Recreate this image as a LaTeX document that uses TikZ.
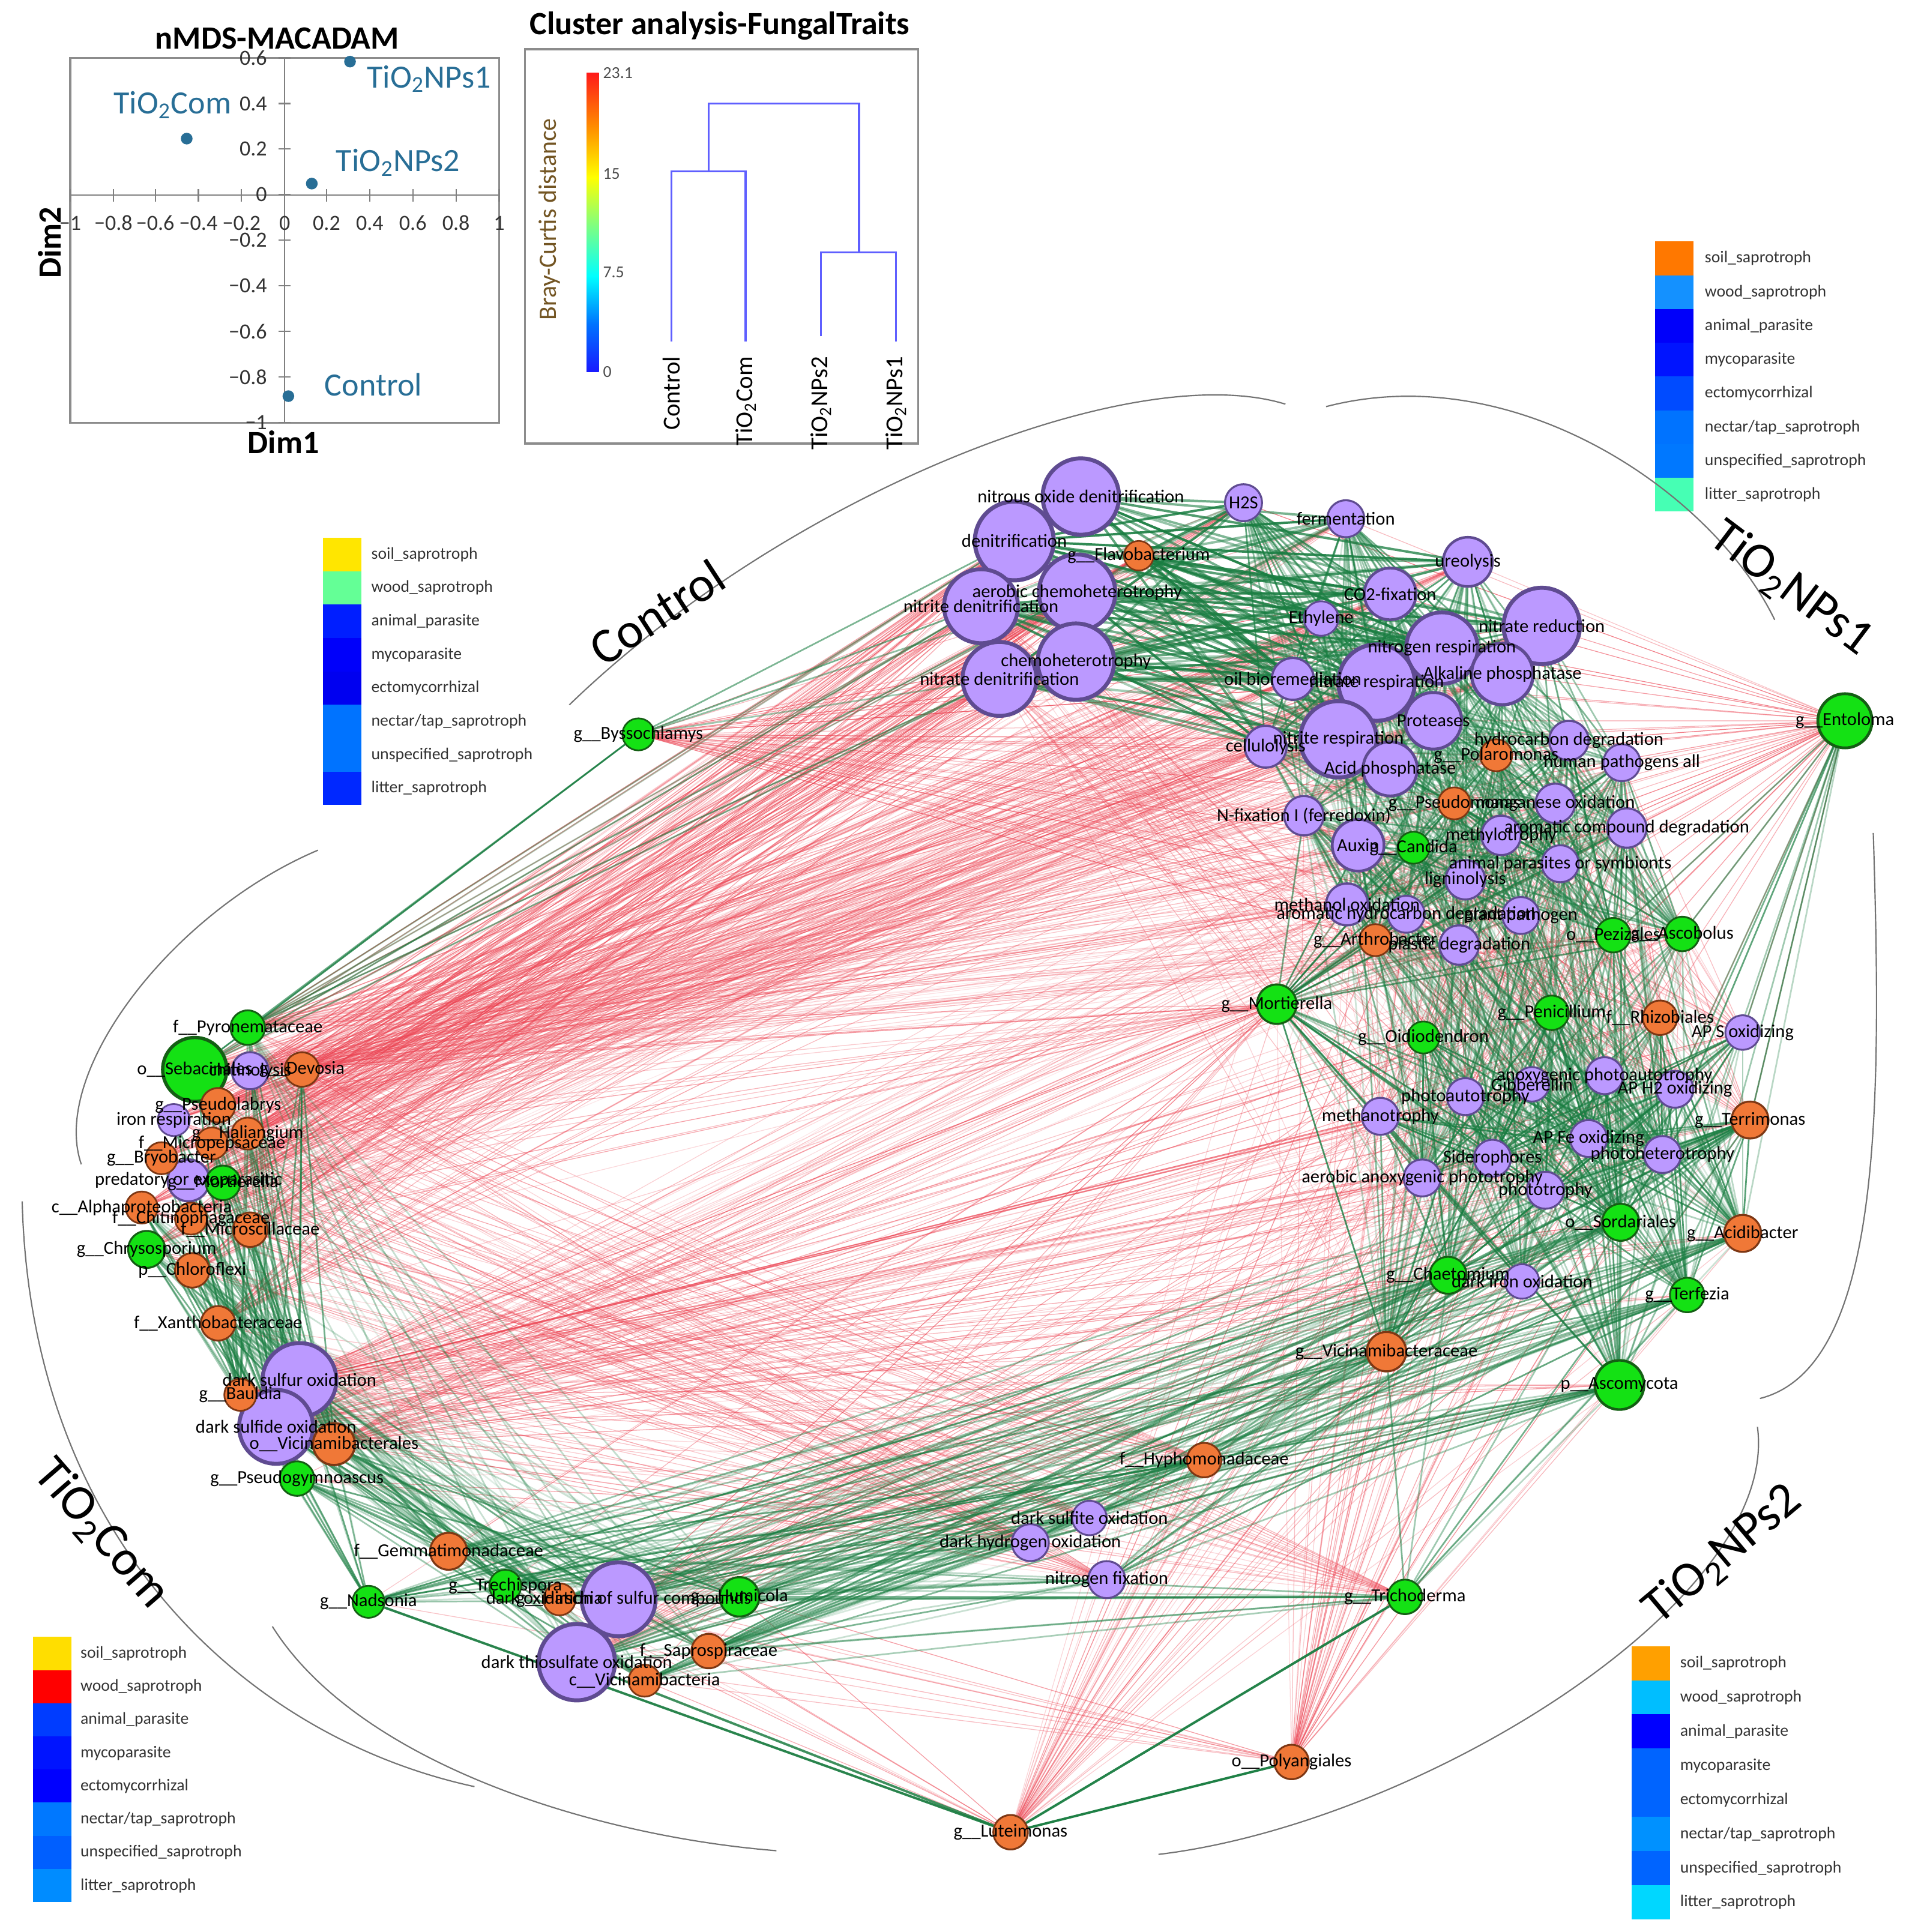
\documentclass[tikz,border=0pt]{standalone}
\usepackage{fontspec}
\setmainfont{Carlito}
\usepackage{tikz}

\pgfdeclarelayer{bg}
\pgfsetlayers{bg,main}

\definecolor{funcfill}{RGB}{187,153,255}
\definecolor{funcdraw}{RGB}{95,75,145}
\definecolor{fungfill}{RGB}{20,225,20}
\definecolor{fungdraw}{RGB}{20,95,20}
\definecolor{bactfill}{RGB}{240,120,55}
\definecolor{bactdraw}{RGB}{125,55,20}
\definecolor{edgegreen}{RGB}{25,125,65}
\definecolor{edgered}{RGB}{235,65,80}
\definecolor{nmdsblue}{RGB}{40,110,150}
\definecolor{dendroblue}{RGB}{95,95,255}
\definecolor{panelgray}{RGB}{140,140,140}
\definecolor{brcbrown}{RGB}{115,85,35}

\pgfdeclareverticalshading{jetbar}{100bp}{rgb(0bp)=(0.1,0.1,1); rgb(25bp)=(0.1,0.1,1); rgb(33bp)=(0,0.45,1); rgb(41bp)=(0,1,1); rgb(49.5bp)=(0.5,1,0.5); rgb(57.5bp)=(1,1,0); rgb(66bp)=(1,0.55,0); rgb(75bp)=(1,0.1,0.1); rgb(100bp)=(1,0.1,0.1)}

\tikzset{
	func/.style={circle, fill=funcfill, draw=funcdraw, line width=#1*0.06pt, minimum size=#1*0.04cm, inner sep=0pt},
	fung/.style={circle, fill=fungfill, draw=fungdraw, line width=#1*0.06pt, minimum size=#1*0.04cm, inner sep=0pt},
	bact/.style={circle, fill=bactfill, draw=bactdraw, line width=#1*0.06pt, minimum size=#1*0.04cm, inner sep=0pt},
	lbl/.style={font=\fontsize{8.5}{9}\selectfont, text=black, inner sep=0pt},
	neglink/.style={draw=edgered, line width=0.35pt},
	poslink/.style={draw=edgegreen, line width=0.75pt},
	grouplab/.style={font=\fontsize{23}{25}\selectfont, text=black},
	legtext/.style={font=\fontsize{7.7}{8}\selectfont, text=black!80, anchor=west, inner sep=0pt},
	hull/.style={draw=black!55, line width=0.6pt},
	panel/.style={draw=panelgray, line width=0.9pt},
	axisline/.style={draw=black!50, line width=0.6pt},
	ticklab/.style={font=\fontsize{10}{11}\selectfont, text=black!80, inner sep=0pt},
	sampdot/.style={circle, fill=nmdsblue, minimum size=0.19cm, inner sep=0pt},
	samplab/.style={font=\fontsize{15}{16}\selectfont, text=nmdsblue, inner sep=0pt},
	paneltitle/.style={font=\fontsize{15}{16}\selectfont\bfseries, inner sep=0pt},
	dendro/.style={draw=dendroblue, line width=0.9pt},
	leaflab/.style={font=\fontsize{11.3}{12}\selectfont, rotate=90, anchor=east, inner sep=0pt},
	barlab/.style={font=\fontsize{7.7}{8}\selectfont, text=black!70, anchor=west, inner sep=0pt}
}

% every pair of the two lists gets a link
\newcommand\linkall[5]{%
	\foreach \p in #2 {\foreach \q in #3 {%
		\pgfmathsetmacro\linkop{#4+#5*rnd}%
		\draw[#1, draw opacity=\linkop] (\p) -- (\q);}}}

\def\legitems{soil\_saprotroph,wood\_saprotroph,animal\_parasite,mycoparasite,ectomycorrhizal,nectar/tap\_saprotroph,unspecified\_saprotroph,litter\_saprotroph}

% functions
\def\funclist{nod/877/403/31/nitrous oxide denitrification,
	hts/1009/408/15/H2S,
	fer/1092/421/15/fermentation,
	den/823/439/32/denitrification,
	ure/1191/456/20/ureolysis,
	aer/874/481/31/aerobic chemoheterotrophy,
	nid/796/492/30/nitrite denitrification,
	cof/1128/482/21/CO2-fixation,
	eth/1072/502/14/Ethylene,
	nrd/1251/508/31/nitrate reduction,
	nrs/1170/526/29/nitrogen respiration,
	che/873/537/31/chemoheterotrophy,
	nad/811/551/30/nitrate denitrification,
	oil/1049/551/17/oil bioremediation,
	ntr/1117/554/31/nitrate respiration,
	alk/1219/547/25/Alkaline phosphatase,
	pro/1163/585/23/Proteases,
	nir/1086/600/31/nitrite respiration,
	cel/1027/606/17/cellulolysis,
	acp/1128/624/22/Acid phosphatase,
	hcd/1273/601/16/hydrocarbon degradation,
	hpa/1316/619/15/human pathogens all,
	mno/1262/652/16/manganese oxidation,
	nfx/1058/662/16/N-fixation I (ferredoxin),
	acd/1320/672/16/aromatic compound degradation,
	aux/1102/686/21/Auxin,
	mty/1218/678/16/methylotrophy,
	anp/1266/701/15/animal parasites or symbionts,
	lig/1189/714/16/ligninolysis,
	mox/1093/734/17/methanol oxidation,
	ahd/1141/742/15/aromatic hydrocarbon degradation,
	ppa/1234/743/15/plant pathogen,
	pld/1184/767/16/plastic degradation,
	aso/1414/838/14/AP S oxidizing,
	aap/1302/873/15/anoxygenic photoautotrophy,
	gib/1243/880/14/Gibberellin,
	aph/1359/884/15/AP H2 oxidizing,
	pau/1189/890/15/photoautotrophy,
	mtt/1120/906/15/methanotrophy,
	afe/1289/924/15/AP Fe oxidizing,
	phh/1349/937/15/photoheterotrophy,
	sid/1211/940/15/Siderophores,
	aao/1154/956/15/aerobic anoxygenic phototrophy,
	pht/1254/966/15/phototrophy,
	dio/1235/1040/14/dark iron oxidation,
	chi/203/869/15/chitinolysis,
	irr/141/909/13/iron respiration,
	pre/153/958/17/predatory or exoparasitic,
	dsu/243/1120/30/dark sulfur oxidation,
	dsd/224/1158/30/dark sulfide oxidation,
	dos/502/1298/30/dark oxidation of sulfur compounds,
	dto/468/1349/31/dark thiosulfate oxidation,
	dsi/884/1232/14/dark sulfite oxidation,
	dho/836/1252/15/dark hydrogen oxidation,
	nfi/898/1282/15/nitrogen fixation}

% fungi
\def\funglist{ent/1497/585/22/g\_\_Entoloma,
	bys/518/596/13/g\_\_Byssochlamys,
	can/1147/688/13/g\_\_Candida,
	pez/1309/759/14/o\_\_Pezizales,
	asb/1365/758/14/g\_\_Ascobolus,
	mor/1036/815/16/g\_\_Mortierella,
	pen/1259/822/14/g\_\_Penicillium,
	oid/1155/842/13/g\_\_Oidiodendron,
	sor/1315/992/15/o\_\_Sordariales,
	cha/1175/1035/15/g\_\_Chaetomium,
	tfz/1369/1051/14/g\_\_Terfezia,
	asc/1314/1124/20/p\_\_Ascomycota,
	pyr/201/834/14/f\_\_Pyronemataceae,
	seb/158/868/26/o\_\_Sebacinales,
	mrt/181/960/14/g\_\_Mortierella,
	chr/119/1014/15/g\_\_Chrysosporium,
	pgy/241/1200/14/g\_\_Pseudogymnoascus,
	nds/299/1300/13/g\_\_Nadsonia,
	tre/410/1287/13/g\_\_Trechispora,
	hum/600/1296/16/g\_\_Humicola,
	tri/1140/1296/14/g\_\_Trichoderma}

% bacteria
\def\bactlist{fla/924/451/12/g\_\_Flavobacterium,
	plr/1214/613/13/g\_\_Polaromonas,
	psm/1180/652/13/g\_\_Pseudomonas,
	art/1116/763/13/g\_\_Arthrobacter,
	rhz/1347/826/14/f\_\_Rhizobiales,
	ter/1420/909/15/g\_\_Terrimonas,
	aci/1414/1001/15/g\_\_Acidibacter,
	vic/1125/1097/16/g\_\_Vicinamibacteraceae,
	hyp/977/1185/14/f\_\_Hyphomonadaceae,
	dev/245/868/14/g\_\_Devosia,
	psl/177/897/14/g\_\_Pseudolabrys,
	hal/201/920/13/g\_\_Haliangium,
	mic/172/928/13/f\_\_Micropepsaceae,
	bry/131/940/13/g\_\_Bryobacter,
	alp/115/980/13/c\_\_Alphaproteobacteria,
	cph/155/989/13/f\_\_Chitinophagaceae,
	msc/203/998/14/f\_\_Microscillaceae,
	chl/156/1031/14/p\_\_Chloroflexi,
	xan/177/1074/14/f\_\_Xanthobacteraceae,
	bau/195/1132/13/g\_\_Bauldia,
	vib/271/1172/17/o\_\_Vicinamibacterales,
	gem/364/1259/15/f\_\_Gemmatimonadaceae,
	hir/454/1298/13/g\_\_Hirschia,
	sap/575/1340/14/f\_\_Saprospiraceae,
	cvi/523/1364/13/c\_\_Vicinamibacteria,
	pol/1048/1430/14/o\_\_Polyangiales,
	lut/820/1487/14/g\_\_Luteimonas}

% groups of nodes for the links
\def\ctrlA{nod,den,aer,nid,che,nad,fla}
\def\ctrlB{hts,fer,ure,cof,eth,nrd,nrs,oil,ntr,alk,pro,nir,cel,acp}
\def\ctrlC{hcd,hpa,plr,psm,mno,nfx,acd,aux,can,mty,anp,lig,mox,ahd,ppa,art,pld,pez,asb}
\def\npsA{mor,pen,rhz,aso,oid,aap,gib,aph,pau,mtt,ter}
\def\npsB{afe,phh,sid,aao,pht,sor,aci,cha,dio,tfz,vic,asc}
\def\comA{pyr,seb,chi,dev,psl,irr,hal,mic,bry,pre,mrt,alp,cph,msc,chr,chl,xan}
\def\comB{dsu,bau,dsd,vib,pgy}
\def\comC{gem,nds,tre,hir,dos,hum,dto,sap,cvi}

\begin{document}
\begin{tikzpicture}[x=0.02cm, y=-0.02cm]
	\useasboundingbox (0,0) rectangle (1551,1568);
	\pgfmathsetseed{11}
	
	% nMDS
	\node[paneltitle] (nmdstitle) at (225,31) {nMDS-MACADAM};
	\draw[panel] (57,47) rectangle (405,343);
	\draw[axisline] (57,158.5) -- (405,158.5);
	\draw[axisline] (231,47) -- (231,343);
	\foreach \x/\tk in {57/−1,92/−0.8,126/−0.6,161/−0.4,196/−0.2,231/0,265/0.2,300/0.4,335/0.6,370/0.8,405/1}{
		\draw[axisline] (\x,153.5) -- (\x,163.5);
		\node[ticklab] (xt\x) at (\x,181) {\tk};}
	\foreach \y/\tk in {47/0.6,84/0.4,121/0.2,158/0,195/−0.2,232/−0.4,269/−0.6,306/−0.8,343/−1}{
		\draw[axisline] (226,\y) -- (236,\y);
		\node[ticklab, anchor=east] (yt\y) at (217,\y) {\tk};}
	\node[paneltitle, rotate=90] (dim2) at (40,197) {Dim2};
	\node[paneltitle] (dim1) at (230,359) {Dim1};
	\node[sampdot] (pnps1) at (284,50) {};
	\node[sampdot] (pcom) at (151.5,112.5) {};
	\node[sampdot] (pnps2) at (253,149) {};
	\node[sampdot] (pctl) at (234,321.5) {};
	\node[samplab] (lnps1) at (348,64) {TiO\textsubscript{2}NPs1};
	\node[samplab] (lcom) at (140,85) {TiO\textsubscript{2}Com};
	\node[samplab] (lnps2) at (323,132) {TiO\textsubscript{2}NPs2};
	\node[samplab] (lctl) at (303,312) {Control};
	
	% cluster analysis
	\node[paneltitle] (clusttitle) at (584,21) {Cluster analysis-FungalTraits};
	\draw[panel] (426,40) rectangle (745,360);
	\shade[shading=jetbar] (476,59) rectangle (486,302);
	\node[barlab] (bmax) at (489,59) {23.1};
	\node[barlab] (b15) at (489,141) {15};
	\node[barlab] (b75) at (489,221) {7.5};
	\node[barlab] (bmin) at (489,302) {0};
	\node[font=\fontsize{11.6}{12}\selectfont, text=brcbrown, rotate=90] (bray) at (446,178) {Bray-Curtis distance};
	\draw[dendro] (545,277) -- (545,139) -- (605,139) -- (605,277);
	\draw[dendro] (666,273) -- (666,205) -- (727,205) -- (727,277);
	\draw[dendro] (575,139) -- (575,84) -- (697,84) -- (697,205);
	\node[leaflab] (lfctl) at (545,289) {Control};
	\node[leaflab] (lfcom) at (605,289) {TiO\textsubscript{2}Com};
	\node[leaflab] (lfnps2) at (666,289) {TiO\textsubscript{2}NPs2};
	\node[leaflab] (lfnps1) at (727,289) {TiO\textsubscript{2}NPs1};
	
	% legends
	\foreach \ra/\ga/\ba [count=\i from 0] in {255/120/0,20/145/255,0/0/250,0/20/255,0/75/255,0/115/255,0/120/255,70/255/180}
		\fill[fill={rgb,255:red,\ra;green,\ga;blue,\ba}] (1343,{196+27.4*\i}) rectangle ++(31,27.4);
	\foreach \legname [count=\i from 0] in \legitems
		\node[legtext] (legA\i) at (1383,{209.7+27.4*\i}) {\legname};
	\foreach \ra/\ga/\ba [count=\i from 0] in {255/230/0,100/255/150,0/30/255,0/0/250,0/0/240,0/115/255,0/115/255,0/40/255}
		\fill[fill={rgb,255:red,\ra;green,\ga;blue,\ba}] (262,{436.5+27.1*\i}) rectangle ++(31,27.1);
	\foreach \legname [count=\i from 0] in \legitems
		\node[legtext] (legB\i) at (301,{450+27.1*\i}) {\legname};
	\foreach \ra/\ga/\ba [count=\i from 0] in {255/222/0,255/0/0,0/60/255,0/20/255,0/0/255,0/120/255,0/95/255,0/140/255}
		\fill[fill={rgb,255:red,\ra;green,\ga;blue,\ba}] (27,{1328.5+26.9*\i}) rectangle ++(31,26.9);
	\foreach \legname [count=\i from 0] in \legitems
		\node[legtext] (legC\i) at (65,{1342+26.9*\i}) {\legname};
	\foreach \ra/\ga/\ba [count=\i from 0] in {255/160/0,0/190/255,0/0/255,0/100/255,0/100/255,0/145/255,0/100/255,0/215/255}
		\fill[fill={rgb,255:red,\ra;green,\ga;blue,\ba}] (1324,{1336+27.7*\i}) rectangle ++(31,27.7);
	\foreach \legname [count=\i from 0] in \legitems
		\node[legtext] (legD\i) at (1363,{1350+27.7*\i}) {\legname};
	
	% group outlines
	\draw[hull] (462,572) .. controls (640,400) and (920,290) .. (1043,328);
	\draw[hull] (1076,330) .. controls (1230,290) and (1390,400) .. (1440,503);
	\draw[hull] (1520,676) .. controls (1527,900) and (1527,1110) .. (1428,1135);
	\draw[hull] (1426,1158) .. controls (1445,1300) and (1150,1480) .. (940,1505);
	\draw[hull] (221,1320) .. controls (290,1430) and (480,1490) .. (630,1502);
	\draw[hull] (18,975) .. controls (25,1250) and (200,1410) .. (385,1450);
	\draw[hull] (258,690) .. controls (140,740) and (40,870) .. (66,945);
	
	\node[grouplab, rotate=33] (gctl) at (533,497) {Control};
	\node[grouplab, rotate=-37] (gnps1) at (1453,478) {TiO\textsubscript{2}NPs1};
	\node[grouplab, rotate=-49] (gcom) at (82,1245) {TiO\textsubscript{2}Com};
	\node[grouplab, rotate=40] (gnps2) at (1398,1262) {TiO\textsubscript{2}NPs2};
	
	% network nodes
	\foreach \nm/\x/\y/\rad/\txt in \funclist {\node[func=\rad] (\nm) at (\x,\y) {};}
	\foreach \nm/\x/\y/\rad/\txt in \funglist {\node[fung=\rad] (\nm) at (\x,\y) {};}
	\foreach \nm/\x/\y/\rad/\txt in \bactlist {\node[bact=\rad] (\nm) at (\x,\y) {};}
	\foreach \nm/\x/\y/\rad/\txt in \funclist {\node[lbl] (\nm-t) at (\nm) {\txt};}
	\foreach \nm/\x/\y/\rad/\txt in \funglist {\node[lbl] (\nm-t) at (\nm) {\txt};}
	\foreach \nm/\x/\y/\rad/\txt in \bactlist {\node[lbl] (\nm-t) at (\nm) {\txt};}
	
	% links
	\begin{pgfonlayer}{bg}
		\linkall{neglink}{\comA}{\ctrlA}{0.2}{0.5}
		\linkall{neglink}{\comA}{\ctrlB}{0.1}{0.4}
		\linkall{neglink}{{seb,dev,chi,pyr,psl}}{\ctrlC}{0.1}{0.35}
		\linkall{neglink}{{bys}}{\ctrlB}{0.3}{0.4}
		\linkall{neglink}{{bys}}{\ctrlC}{0.3}{0.4}
		\linkall{neglink}{{ent}}{\ctrlB}{0.3}{0.4}
		\linkall{neglink}{{ent}}{\ctrlC}{0.3}{0.4}
		\linkall{neglink}{{ent}}{\npsA}{0.3}{0.4}
		\linkall{neglink}{{dsu,dsd,vib,bau,dos,dto}}{\npsA}{0.15}{0.4}
		\linkall{neglink}{{dsu,dsd,vib,bau,dos,dto}}{\npsB}{0.15}{0.4}
		\linkall{neglink}{{dsu,dsd,vib}}{\ctrlC}{0.1}{0.3}
		\linkall{neglink}{{lut,pol}}{\npsA}{0.2}{0.4}
		\linkall{neglink}{{lut,pol}}{\npsB}{0.2}{0.4}
		\linkall{neglink}{{lut,pol}}{\ctrlC}{0.15}{0.3}
		\linkall{neglink}{{lut,pol}}{\comC}{0.2}{0.4}
		\linkall{neglink}{{mor}}{\comA}{0.2}{0.4}
		\linkall{neglink}{{mor}}{\comB}{0.2}{0.4}
		\linkall{neglink}{{mor}}{\comC}{0.2}{0.4}
		\linkall{neglink}{\ctrlC}{\npsA}{0.1}{0.4}
		\linkall{neglink}{{hyp,dsi,dho,nfi,tri}}{\comA}{0.15}{0.35}
		\linkall{neglink}{{hyp,dsi,dho,nfi,tri}}{\comB}{0.15}{0.35}
		\linkall{neglink}{{nid,nad,che}}{\npsB}{0.15}{0.3}
		
		\linkall{poslink, line width=1.1pt}{\ctrlA}{\ctrlB}{0.35}{0.55}
		\linkall{poslink}{{den,nid,aer,nad}}{{bys,pyr,seb}}{0.25}{0.45}
		\linkall{poslink}{{bys}}{{pyr,seb}}{0.6}{0.3}
		\linkall{poslink}{{hts,fer,ure,cof,eth,nrd}}{{nrs,oil,ntr,alk,pro,nir,cel,acp}}{0.3}{0.5}
		\linkall{poslink}{\ctrlB}{\ctrlC}{0.1}{0.5}
		\linkall{poslink}{{hcd,hpa,plr,psm,mno,nfx,acd,aux,can}}{{mty,anp,lig,mox,ahd,ppa,art,pld,pez,asb}}{0.15}{0.5}
		\linkall{poslink}{\ctrlC}{\npsB}{0.1}{0.45}
		\linkall{poslink}{{mor}}{\ctrlC}{0.3}{0.5}
		\linkall{poslink}{\npsA}{\npsB}{0.25}{0.6}
		\linkall{poslink}{{ent}}{{asb,pez,ter,aci,tfz,asc,sor,aso,aph,phh}}{0.3}{0.4}
		\linkall{poslink}{{asc,tfz,aci,ter,vic,cha,sor}}{\comC}{0.15}{0.5}
		\linkall{poslink}{{asc,tfz,aci,ter,vic,cha,sor}}{{hyp,dsi,dho,nfi,tri}}{0.2}{0.5}
		\linkall{poslink}{{hyp}}{\comC}{0.3}{0.5}
		\linkall{poslink}{{tri,dsi,dho,nfi}}{\comC}{0.15}{0.45}
		\linkall{poslink}{\comA}{\comB}{0.2}{0.5}
		\linkall{poslink}{\comB}{\comC}{0.2}{0.5}
		\linkall{poslink}{{pyr,seb,chr,alp,xan,chl}}{\comC}{0.1}{0.3}
		\linkall{poslink, line width=1.1pt}{{lut}}{{nds,tri,pol,dto}}{0.8}{0.2}
	\end{pgfonlayer}
\end{tikzpicture}
\end{document}
